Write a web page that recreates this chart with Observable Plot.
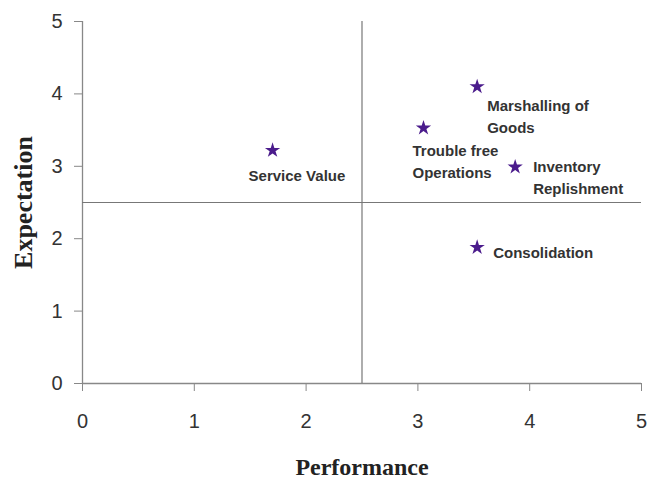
<!DOCTYPE html>
<html>
<head>
<meta charset="utf-8">
<script src="https://cdn.jsdelivr.net/npm/d3@7"></script>
<script src="https://cdn.jsdelivr.net/npm/@observablehq/plot@0.6"></script>
<style>
  html, body { margin: 0; padding: 0; background: #fff; }
  #chart svg { display: block; }
</style>
</head>
<body>
<div id="chart"></div>
<script>
// ---- data ----
const names = ["Service Value", "Trouble free\nOperations", "Marshalling of\nGoods", "Inventory\nReplishment", "Consolidation"];
const performance = [1.7, 3.05, 3.53, 3.87, 3.53];
const expectation = [3.22, 3.53, 4.10, 2.99, 1.88];
const xTicks = [0, 1, 2, 3, 4, 5];
const yTicks = [0, 1, 2, 3, 4, 5];
const dividers = [2.5];
const xTitle = "Performance";
const yTitle = "Expectation";

const data = names.map((name, i) => ({name, x: performance[i], y: expectation[i]}));

const labelFont = {fontSize: 15, fontWeight: "bold", fill: "#333", fontFamily: "Arial, 'Liberation Sans', sans-serif", textAnchor: "start", lineAnchor: "top", lineHeight: 1.47};
const lbl = (name, dx, dy) => Plot.text(data, {filter: d => d.name === name, x: "x", y: "y", text: "name", dx, dy, ...labelFont});
const fmt = d3.format("d");

const chart = Plot.plot({
  width: 649,
  height: 479,
  marginLeft: 82,
  marginRight: 8,
  marginTop: 21,
  marginBottom: 96,
  style: {fontFamily: "Arial, 'Liberation Sans', sans-serif", fontSize: "20px", color: "#333", background: "#fff"},
  x: {domain: [0, 5]},
  y: {domain: [0, 5]},
  marks: [
    Plot.axisX(xTicks, {tickSize: 8, tickPadding: 22, tickFormat: fmt, stroke: "#888", fill: "#333", label: null, fontSize: 20}),
    Plot.axisY(yTicks, {tickSize: 8, tickPadding: 12, tickFormat: fmt, stroke: "#888", fill: "#333", label: null, fontSize: 20}),
    Plot.ruleX([0], {stroke: "#888", strokeWidth: 1.3}),
    Plot.ruleY([0], {stroke: "#888", strokeWidth: 1.3}),
    Plot.ruleX(dividers, {stroke: "#777", strokeWidth: 1.2}),
    Plot.ruleY(dividers, {stroke: "#777", strokeWidth: 1.2}),
    Plot.dot(data, {x: "x", y: "y", symbol: "star", r: 4.8, fill: "#4b1c8c", stroke: "none"}),
    lbl("Service Value", -24, 15),
    lbl("Trouble free\nOperations", -11, 12),
    lbl("Marshalling of\nGoods", 10, 9),
    lbl("Inventory\nReplishment", 18, -11),
    lbl("Consolidation", 16, -5),
    Plot.text([xTitle], {frameAnchor: "bottom", textAnchor: "middle", lineAnchor: "bottom", dy: 91, text: d => d, fontFamily: "'Times New Roman', 'Liberation Serif', serif", fontWeight: "bold", fontSize: 24, fill: "#222"}),
    Plot.text([yTitle], {frameAnchor: "left", textAnchor: "middle", lineAnchor: "middle", rotate: -90, dx: -59, text: d => d, fontFamily: "'Times New Roman', 'Liberation Serif', serif", fontWeight: "bold", fontSize: 26, fill: "#222"})
  ]
});
document.getElementById("chart").appendChild(chart);
</script>
</body>
</html>
